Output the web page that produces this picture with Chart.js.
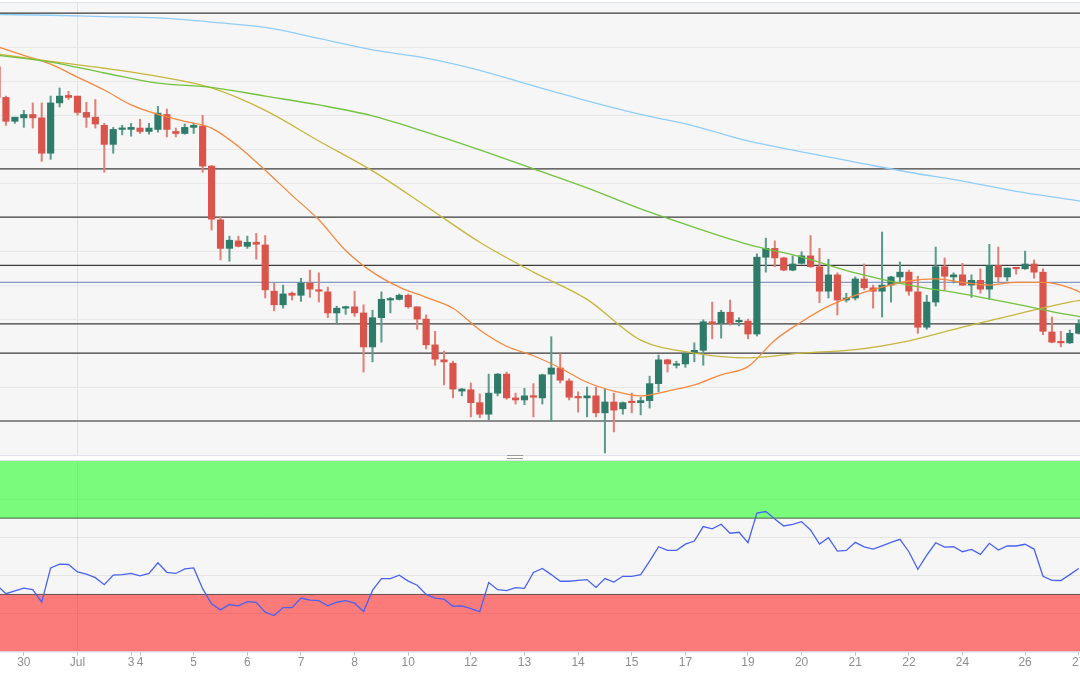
<!DOCTYPE html>
<html><head><meta charset="utf-8">
<script src="https://cdn.jsdelivr.net/npm/chart.js@4.4.0/dist/chart.umd.min.js"></script>
<style>
html,body{margin:0;padding:0;background:#fff;width:1080px;height:675px;overflow:hidden}
#top{position:absolute;left:0;top:0;width:1080px;height:458px}
#bot{position:absolute;left:0;top:458px;width:1080px;height:217px}
#handle{position:absolute;left:507px;top:455px;width:16px;height:2px;border-top:1px solid #9a9a9a;border-bottom:1px solid #9a9a9a}
</style></head><body>
<div id="top"><canvas id="c1" width="1080" height="458"></canvas></div>
<div id="bot"><canvas id="c2" width="1080" height="217"></canvas></div>
<div id="handle"></div>
<script>
// ---- x axis (candle index) tick labels ----
const tickIdx  = [3,9,15,16,22,28,34,40,46,53,59,65,71,77,84,90,96,102,108,115,121];
const tickText = ['30','Jul','3','4','5','6','7','8','10','12','13','14','15','17','19','20','21','22','24','26','27'];
const monthLineIdx = 9;

// ---- 4h candles (EUR/USD style prices) ----
const openP = [1.0521,1.0476,1.0441,1.0446,1.0451,1.0446,1.0394,1.0468,1.0479,1.0478,1.0454,1.0447,1.0435,1.0407,1.0429,1.0429,1.0431,1.0426,1.0429,1.0451,1.0426,1.0423,1.0432,1.0434,1.0375,1.0296,1.0254,1.0265,1.0257,1.0263,1.0259,1.0191,1.0171,1.0188,1.0185,1.0203,1.0193,1.0190,1.0159,1.0166,1.0168,1.0159,1.0109,1.0152,1.0178,1.0179,1.0185,1.0168,1.0150,1.0112,1.0090,1.0085,1.0044,1.0046,1.0027,1.0010,1.0041,1.0069,1.0034,1.0031,1.0037,1.0034,1.0069,1.0078,1.0059,1.0035,1.0034,1.0037,1.0012,1.0028,1.0018,1.0028,1.0027,1.0030,1.0055,1.0090,1.0082,1.0084,1.0099,1.0104,1.0146,1.0144,1.0160,1.0146,1.0147,1.0128,1.0241,1.0254,1.0240,1.0222,1.0232,1.0243,1.0227,1.0191,1.0215,1.0178,1.0181,1.0209,1.0196,1.0191,1.0200,1.0212,1.0219,1.0190,1.0138,1.0175,1.0227,1.0212,1.0215,1.0200,1.0207,1.0194,1.0229,1.0212,1.0225,1.0224,1.0231,1.0219,1.0131,1.0116,1.0115,1.0129];
const highP = [1.0560,1.0478,1.0447,1.0457,1.0468,1.0468,1.0478,1.0490,1.0485,1.0478,1.0469,1.0473,1.0438,1.0432,1.0435,1.0438,1.0444,1.0438,1.0463,1.0459,1.0431,1.0437,1.0438,1.0450,1.0376,1.0300,1.0272,1.0272,1.0272,1.0276,1.0273,1.0203,1.0200,1.0190,1.0210,1.0222,1.0218,1.0197,1.0169,1.0169,1.0191,1.0171,1.0163,1.0190,1.0182,1.0187,1.0187,1.0168,1.0156,1.0132,1.0103,1.0088,1.0048,1.0056,1.0040,1.0069,1.0070,1.0072,1.0041,1.0048,1.0055,1.0069,1.0124,1.0099,1.0062,1.0043,1.0050,1.0050,1.0047,1.0041,1.0028,1.0041,1.0035,1.0066,1.0097,1.0091,1.0088,1.0102,1.0115,1.0149,1.0175,1.0163,1.0178,1.0152,1.0150,1.0246,1.0269,1.0265,1.0241,1.0243,1.0249,1.0273,1.0254,1.0238,1.0218,1.0188,1.0212,1.0231,1.0200,1.0278,1.0213,1.0234,1.0222,1.0213,1.0185,1.0256,1.0240,1.0218,1.0232,1.0215,1.0224,1.0260,1.0256,1.0225,1.0226,1.0250,1.0237,1.0224,1.0153,1.0132,1.0134,1.0149];
const lowP = [1.0473,1.0435,1.0438,1.0432,1.0431,1.0382,1.0385,1.0462,1.0473,1.0450,1.0432,1.0431,1.0366,1.0394,1.0421,1.0419,1.0423,1.0422,1.0425,1.0418,1.0418,1.0422,1.0423,1.0366,1.0281,1.0237,1.0235,1.0256,1.0254,1.0238,1.0181,1.0162,1.0166,1.0178,1.0176,1.0182,1.0175,1.0152,1.0144,1.0157,1.0154,1.0072,1.0087,1.0116,1.0159,1.0178,1.0166,1.0135,1.0106,1.0082,1.0053,1.0034,1.0037,1.0006,1.0005,1.0002,1.0037,1.0032,1.0025,1.0024,1.0006,1.0025,0.9999,1.0056,1.0031,1.0013,1.0006,1.0006,0.9953,0.9984,1.0010,1.0012,1.0009,1.0019,1.0043,1.0072,1.0078,1.0079,1.0087,1.0082,1.0121,1.0122,1.0141,1.0140,1.0121,1.0125,1.0219,1.0227,1.0221,1.0221,1.0231,1.0226,1.0174,1.0181,1.0156,1.0175,1.0178,1.0193,1.0166,1.0153,1.0175,1.0204,1.0185,1.0129,1.0135,1.0169,1.0193,1.0203,1.0199,1.0182,1.0188,1.0179,1.0204,1.0206,1.0216,1.0223,1.0210,1.0127,1.0115,1.0109,1.0114,1.0128];
const closeP = [1.0476,1.0441,1.0447,1.0451,1.0446,1.0394,1.0468,1.0478,1.0476,1.0454,1.0447,1.0437,1.0407,1.0429,1.0431,1.0432,1.0426,1.0431,1.0453,1.0429,1.0423,1.0432,1.0435,1.0375,1.0297,1.0254,1.0266,1.0257,1.0263,1.0260,1.0193,1.0171,1.0187,1.0185,1.0203,1.0194,1.0191,1.0159,1.0166,1.0168,1.0159,1.0109,1.0152,1.0179,1.0179,1.0185,1.0168,1.0150,1.0112,1.0091,1.0087,1.0047,1.0047,1.0027,1.0010,1.0041,1.0069,1.0034,1.0031,1.0037,1.0035,1.0068,1.0078,1.0060,1.0035,1.0034,1.0037,1.0012,1.0028,1.0016,1.0027,1.0027,1.0030,1.0055,1.0090,1.0084,1.0084,1.0099,1.0104,1.0146,1.0143,1.0160,1.0144,1.0148,1.0128,1.0241,1.0254,1.0240,1.0222,1.0231,1.0243,1.0227,1.0191,1.0215,1.0178,1.0181,1.0209,1.0196,1.0191,1.0200,1.0212,1.0219,1.0191,1.0138,1.0175,1.0227,1.0213,1.0215,1.0200,1.0207,1.0194,1.0229,1.0212,1.0225,1.0224,1.0231,1.0219,1.0132,1.0116,1.0115,1.0129,1.0143];

// ---- moving averages, read at sample candle positions ----
const maIdx6 = [0,6,12,18,24,30,36,42,48,54,60,66,72,78,84,90,96,102,108,114,120,122];
const ma200 = [1.0598,1.0597,1.0595,1.0593,1.0587,1.0579,1.0563,1.0546,1.0534,1.0516,1.0493,1.0471,1.0451,1.0434,1.0412,1.0396,1.0381,1.0366,1.0353,1.0338,1.0326,1.0322];
const ma100 = [1.0538,1.0528,1.0512,1.0497,1.0491,1.0478,1.0465,1.0449,1.0425,1.0399,1.0371,1.0343,1.0312,1.0285,1.0260,1.0241,1.0218,1.0200,1.0187,1.0172,1.0156,1.0152];
const ma50  = [1.0540,1.0529,1.0519,1.0507,1.0490,1.0457,1.0412,1.0368,1.0316,1.0263,1.0219,1.0179,1.0119,1.0100,1.0093,1.0100,1.0105,1.0118,1.0138,1.0157,1.0175,1.0179];
const maIdx3 = [0,3,6,9,12,15,18,21,24,27,30,33,36,39,42,45,48,51,54,57,60,63,66,69,72,75,78,81,84,87,90,93,96,99,102,105,108,111,114,117,120,122];
const ma20  = [1.0551,1.0538,1.0525,1.0506,1.0487,1.0465,1.0451,1.0441,1.0431,1.0404,1.0369,1.0332,1.0296,1.0251,1.0219,1.0197,1.0182,1.0166,1.0134,1.0110,1.0096,1.0078,1.0057,1.0044,1.0037,1.0044,1.0053,1.0068,1.0080,1.0119,1.0146,1.0169,1.0185,1.0197,1.0206,1.0209,1.0204,1.0200,1.0204,1.0204,1.0196,1.0184];

// ---- horizontal levels ----
const darkLevels = [1.0600,1.0371,1.0300,1.0229,1.0143,1.0100];
const blueLevels = [1.0204];
const parityLevels = [1.0000];
const priceGrid = [1.000,1.005,1.010,1.015,1.020,1.025,1.030,1.035,1.040,1.045,1.050,1.055,1.060];

// ---- RSI ----
const rsi = [34.8,30.4,31.9,33.3,32.5,25.9,43.9,45.9,45.7,41.8,40.6,38.8,35.1,40.1,40.4,41.0,39.7,41.0,46.6,41.6,41.0,43.4,43.9,33.0,25.1,21.9,24.7,24.0,26.2,25.8,20.7,18.9,23.1,23.1,28.1,27.0,26.7,24.0,25.9,26.7,25.4,
21.0,32.1,38.3,38.3,40.1,37.0,34.8,30.0,28.1,27.5,23.8,24.0,22.5,21.0,36.2,32.5,32.0,33.6,33.2,41.5,43.6,40.4,36.9,36.9,37.4,37.8,33.7,38.3,36.5,39.5,39.5,40.4,47.5,55.0,53.1,53.1,56.4,58.0,65.6,64.4,66.8,
62.1,62.6,57.1,72.7,73.5,69.6,65.9,66.8,68.2,63.8,56.4,59.8,52.7,53.1,57.3,55.0,53.8,55.5,57.3,58.9,52.4,43.2,50.6,57.1,54.8,55.0,52.4,53.6,51.0,56.8,53.3,55.5,55.4,56.3,53.8,39.5,37.4,37.3,40.4,43.6];
const rsiUpper = 70, rsiLower = 30;
const rsiGrid = [20,40,60,80];

const xMin = 0.335, xMax = 121.14;
const UP = '#2e7b69', DOWN = '#d9544a', UPW = '#5c9c8c', DOWNW = '#e08076';

const bg = {
  id:'bg',
  beforeDraw(chart){
    const {ctx, chartArea:a} = chart;
    ctx.save();
    ctx.fillStyle = '#f6f6f6';
    ctx.fillRect(a.left, a.top, a.right-a.left, a.bottom-a.top);
    ctx.strokeStyle = '#dfe3ec'; ctx.lineWidth = 1;
    ctx.beginPath();
    ctx.moveTo(a.left, a.top-0.5); ctx.lineTo(a.right, a.top-0.5);
    ctx.moveTo(a.left, a.bottom+0.5); ctx.lineTo(a.right, a.bottom+0.5);
    ctx.stroke();
    ctx.restore();
  }
};

const idx = openP.map((_, i) => i);
const isUp = i => closeP[i] >= openP[i];
const hLine = (v, color, w, order) => ({
  type:'line', data:[{x:xMin-1,y:v},{x:xMax+1,y:v}], borderColor:color, borderWidth:w,
  pointRadius:0, order, fill:false
});
const maLine = (xs, ys, color) => ({
  type:'line', data:xs.map((x,k)=>({x, y:ys[k]})), borderColor:color, borderWidth:1.3,
  pointRadius:0, cubicInterpolationMode:'monotone', order:1, fill:false
});

const monthGrid = c => (c.tick && c.tick.value === monthLineIdx) ? '#e2e2e2' : 'rgba(0,0,0,0)';
const xScaleBase = () => ({
  type:'linear', min:xMin, max:xMax, offset:false,
  afterBuildTicks: s => { s.ticks = tickIdx.map(v => ({value:v})); },
  afterFit: s => { s.paddingLeft = 0; s.paddingRight = 0; },
  border:{display:false},
  grid:{ color: monthGrid, offset:false, drawTicks:false, lineWidth:1 },
  ticks:{ display:false }
});

const topDatasets = [];
darkLevels.forEach(v => topDatasets.push(hLine(v, '#3d3d3d', 1.2, 6)));
blueLevels.forEach(v => topDatasets.push(hLine(v, '#8398c4', 1.2, 6)));
parityLevels.forEach(v => topDatasets.push(hLine(v, '#8c8c8c', 2, 6)));
topDatasets.push({
  type:'bar', data: idx.map(i => ({x:i, y:[lowP[i], highP[i]]})),
  backgroundColor: c => isUp(c.dataIndex) ? UPW : DOWNW,
  barThickness:1.4, grouped:false, borderWidth:0, order:4
});
topDatasets.push({
  type:'bar', data: idx.map(i => ({x:i, y:[openP[i], closeP[i]]})),
  backgroundColor: c => isUp(c.dataIndex) ? UP : DOWN,
  barThickness:6.5, grouped:false, borderWidth:0, minBarLength:1.5, order:3
});
topDatasets.push(maLine(maIdx6, ma200, '#8fcdf7'));
topDatasets.push(maLine(maIdx6, ma100, '#72c23e'));
topDatasets.push(maLine(maIdx6, ma50, '#c6b53c'));
topDatasets.push(maLine(maIdx3, ma20, '#f4883f'));

new Chart(document.getElementById('c1'), {
  type:'bar',
  data:{ datasets: topDatasets },
  options:{
    responsive:false, animation:false, devicePixelRatio:1,
    layout:{ padding:{top:3, bottom:3, left:0, right:0} },
    plugins:{ legend:{display:false}, tooltip:{enabled:false} },
    scales:{
      x: xScaleBase(),
      y:{ type:'linear', min:0.9950, max:1.0615,
          afterBuildTicks: s => { s.ticks = priceGrid.map(v => ({value:v})); },
          border:{display:false}, grid:{ color:'#e8e8e8', drawTicks:false },
          ticks:{ display:false } }
    }
  },
  plugins:[bg]
});

const bx = xScaleBase();
bx.ticks = { display:true, autoSkip:false, maxRotation:0, padding:0, color:'#8e8e8e',
  font:{ family:'"Liberation Sans", Arial, sans-serif', size:12 },
  callback: v => { const k = tickIdx.indexOf(v); return k >= 0 ? tickText[k] : ''; } };
bx.grid = { color: monthGrid, offset:false,
  drawTicks:true, tickLength:4, tickColor:'#c4c4c4', lineWidth:1 };
bx.border = { display:true, color:'#dde1ea' };

new Chart(document.getElementById('c2'), {
  type:'line',
  data:{ datasets:[
    { data:[{x:xMin-1,y:rsiUpper},{x:xMax+1,y:rsiUpper}], borderColor:'rgba(0,0,0,0.6)', borderWidth:1,
      pointRadius:0, fill:'end', backgroundColor:'rgba(0,255,0,0.5)', order:3 },
    { data:[{x:xMin-1,y:rsiLower},{x:xMax+1,y:rsiLower}], borderColor:'rgba(0,0,0,0.6)', borderWidth:1,
      pointRadius:0, fill:'start', backgroundColor:'rgba(255,0,0,0.5)', order:3 },
    { data: rsi.map((v,i) => ({x:i, y:v})), borderColor:'#4a62f0', borderWidth:1.3,
      pointRadius:0, fill:false, order:1 }
  ]},
  options:{
    responsive:false, animation:false, devicePixelRatio:1,
    layout:{ padding:{top:3, bottom:5, left:0, right:0} },
    plugins:{ legend:{display:false}, tooltip:{enabled:false} },
    scales:{
      x: bx,
      y:{ type:'linear', min:0, max:100,
          afterBuildTicks: s => { s.ticks = rsiGrid.map(v => ({value:v})); },
          border:{display:false}, grid:{ color:'rgba(0,0,0,0.07)', drawTicks:false },
          ticks:{ display:false } }
    }
  },
  plugins:[bg]
});
</script>
</body></html>
